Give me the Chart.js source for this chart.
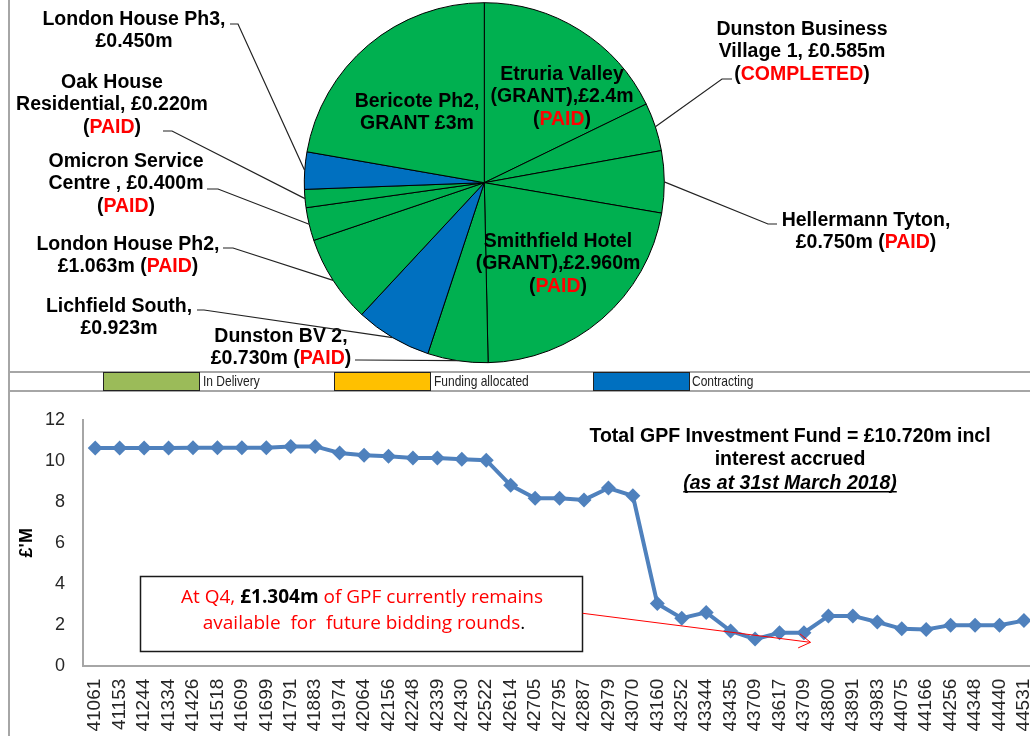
<!DOCTYPE html>
<html>
<head>
<meta charset="utf-8">
<title>GPF Investment Fund</title>
<script src="https://cdn.jsdelivr.net/npm/chart.js@4.4.0/dist/chart.umd.min.js"></script>
<style>
  html, body { margin: 0; padding: 0; background: #fff; overflow: hidden; }
  #page { position: relative; width: 1030px; height: 736px; overflow: hidden; font-family: 'Liberation Sans', Arial, sans-serif; }
  #pieBox { position: absolute; left: 0; top: 0; width: 1030px; height: 370px; }
  #lineBox { position: absolute; left: 0; top: 391px; width: 1060px; height: 345px; }
  .rule { position: absolute; background: #a6a6a6; }
  .key { position: absolute; top: 372px; width: 95px; height: 17px; border: 1px solid #222; }
  .keyText { position: absolute; top: 372px; font: 15px 'Liberation Sans', Arial, sans-serif; color: #222;
             transform: scaleX(0.8); transform-origin: 0 0; white-space: nowrap; }
</style>
</head>
<body>
<div id="page">
  <div id="pieBox"><canvas id="pieChart"></canvas></div>
  <div class="rule" style="left:8px; top:0; width:2px; height:736px;"></div>
  <div class="rule" style="left:8px; top:371px; width:1022px; height:2px;"></div>
  <div class="rule" style="left:8px; top:390px; width:1022px; height:2px;"></div>
  <div class="key" style="left:103px; background:#9bbb59;"></div>
  <div class="keyText" style="left:203px;">In Delivery</div>
  <div class="key" style="left:334px; background:#ffc000;"></div>
  <div class="keyText" style="left:434px;">Funding allocated</div>
  <div class="key" style="left:593px; background:#0070c0;"></div>
  <div class="keyText" style="left:692px;">Contracting</div>
  <div id="lineBox"><canvas id="lineChart"></canvas></div>
</div>
<script>
// pie: GPF allocations (£m), clockwise from 12 o'clock
const sliceNames = ['Etruria Valley', 'Dunston Business Village 1', 'Hellermann Tyton', 'Smithfield Hotel',
  'Dunston BV 2', 'Lichfield South', 'London House Ph2', 'Omicron Service Centre',
  'Oak House Residential', 'London House Ph3', 'Bericote Ph2'];
const sliceValues = [2.4, 0.585, 0.75, 2.96, 0.73, 0.923, 1.063, 0.4, 0.22, 0.45, 3];
const sliceColors = ['#00b050', '#00b050', '#00b050', '#00b050', '#00b050', '#0070c0',
  '#00b050', '#00b050', '#00b050', '#0070c0', '#00b050'];
// {..} = red text
const sliceLabels = [
  ['Etruria Valley', '(GRANT),£2.4m', '({PAID})'],
  ['Dunston Business', 'Village 1, £0.585m', '({COMPLETED})'],
  ['Hellermann Tyton,', '£0.750m ({PAID})'],
  ['Smithfield Hotel', '(GRANT),£2.960m', '({PAID})'],
  ['Dunston BV 2,', '£0.730m ({PAID})'],
  ['Lichfield South,', '£0.923m'],
  ['London House Ph2,', '£1.063m ({PAID})'],
  ['Omicron Service', 'Centre , £0.400m', '({PAID})'],
  ['Oak House', 'Residential, £0.220m', '({PAID})'],
  ['London House Ph3,', '£0.450m'],
  ['Bericote Ph2,', 'GRANT £3m']
];

// line: fund remaining (£m) per quarter
const quarterLabels = ['41061', '41153', '41244', '41334', '41426', '41518', '41609', '41699', '41791', '41883',
  '41974', '42064', '42156', '42248', '42339', '42430', '42522', '42614', '42705', '42795',
  '42887', '42979', '43070', '43160', '43252', '43344', '43435', '43709', '43617', '43709',
  '43800', '43891', '43983', '44075', '44166', '44256', '44348', '44440', '44531'];
const fundRemaining = [10.62, 10.62, 10.62, 10.62, 10.64, 10.64, 10.64, 10.64, 10.70, 10.70,
  10.38, 10.27, 10.22, 10.14, 10.14, 10.07, 10.03, 8.8, 8.17, 8.17,
  8.09, 8.67, 8.29, 3.03, 2.32, 2.6, 1.69, 1.30, 1.61, 1.61,
  2.43, 2.43, 2.13, 1.80, 1.77, 1.98, 1.98, 1.98, 2.2];
const yTicks = [0, 2, 4, 6, 8, 10, 12];

const FONT = '"Liberation Sans", Arial, sans-serif';

// where each pie label sits; "from" = [leader start x, y, elbow x]
const labelSpots = [
  { x: 562, y: 80 },
  { x: 802, y: 35, from: [732, 79, 722] },
  { x: 866, y: 226, from: [777, 224, 768] },
  { x: 558, y: 247 },
  { x: 281, y: 342, from: [355, 360, 358] },
  { x: 119, y: 312, from: [197, 310, 204] },
  { x: 128, y: 250, from: [223, 248, 233] },
  { x: 126, y: 167, from: [207, 189, 218] },
  { x: 112, y: 88, from: [163, 131, 172] },
  { x: 134, y: 25, from: [230, 24, 238] },
  { x: 417, y: 107 }
];

function drawRuns(ctx, runs, cx, baseline) {
  let total = 0;
  runs.forEach(r => { ctx.font = r.font; r.w = ctx.measureText(r.text).width; total += r.w; });
  let xPos = cx - total / 2;
  ctx.textAlign = 'left';
  runs.forEach(r => {
    ctx.font = r.font;
    ctx.fillStyle = r.color;
    ctx.fillText(r.text, xPos, baseline);
    xPos += r.w;
  });
}

const pieLabelPlugin = {
  id: 'pieLabels',
  afterDatasetsDraw(chart) {
    const ctx = chart.ctx;
    const arcs = chart.getDatasetMeta(0).data;
    const font = 'bold 19.5px ' + FONT;
    ctx.save();
    ctx.textBaseline = 'alphabetic';
    labelSpots.forEach((spot, i) => {
      if (spot.from) {
        const arc = arcs[i];
        const mid = (arc.startAngle + arc.endAngle) / 2;
        ctx.beginPath();
        ctx.moveTo(spot.from[0], spot.from[1]);
        ctx.lineTo(spot.from[2], spot.from[1]);
        ctx.lineTo(arc.x + Math.cos(mid) * arc.outerRadius, arc.y + Math.sin(mid) * arc.outerRadius);
        ctx.strokeStyle = '#222';
        ctx.lineWidth = 1.2;
        ctx.stroke();
      }
      sliceLabels[i].forEach((line, k) => {
        const runs = line.split(/[{}]/).map((t, j) => ({ text: t, font: font, color: j % 2 ? '#ff0000' : '#000' }));
        drawRuns(ctx, runs, spot.x, spot.y + k * 22.3);
      });
    });
    ctx.restore();
  }
};

const notesPlugin = {
  id: 'notes',
  afterDatasetsDraw(chart) {
    const { ctx, scales: { x, y } } = chart;
    ctx.save();
    ctx.textBaseline = 'alphabetic';
    ctx.textAlign = 'center';
    ctx.fillStyle = '#000';
    ctx.font = 'bold 19.5px ' + FONT;
    ctx.fillText('Total GPF Investment Fund = £10.720m incl', 790, 51);
    ctx.fillText('interest accrued', 790, 74);
    ctx.font = 'italic bold 19.5px ' + FONT;
    const sub = '(as at 31st March 2018)';
    ctx.fillText(sub, 790, 97.5);
    const w = ctx.measureText(sub).width;
    ctx.fillRect(790 - w / 2, 100, w, 1.5);

    // text box
    ctx.fillStyle = '#fff';
    ctx.fillRect(140, 185, 443, 76);
    ctx.strokeStyle = '#1a1a1a';
    ctx.lineWidth = 1.5;
    ctx.strokeRect(140.5, 185.5, 442, 75);
    const reg = '19px "Open Sans", sans-serif';
    const bold = 'bold 19px "Open Sans", sans-serif';
    drawRuns(ctx, [
      { text: 'At Q4, ', font: reg, color: '#ff0000' },
      { text: '£1.304m', font: bold, color: '#000' },
      { text: ' of GPF currently remains', font: reg, color: '#ff0000' }
    ], 362, 212.3);
    drawRuns(ctx, [
      { text: 'available  for  future bidding rounds', font: reg, color: '#ff0000' },
      { text: '.', font: reg, color: '#000' }
    ], 364, 238.3);

    // arrow to the low point
    const sx = 582.7, sy = 222.3;
    const tx = x.getPixelForValue(29) + 6.5, ty = y.getPixelForValue(1.14);
    const ang = Math.atan2(ty - sy, tx - sx);
    ctx.strokeStyle = '#ff0000';
    ctx.lineWidth = 1;
    ctx.beginPath();
    ctx.moveTo(sx, sy);
    ctx.lineTo(tx, ty);
    ctx.moveTo(tx + Math.cos(ang + Math.PI - 0.55) * 13.5, ty + Math.sin(ang + Math.PI - 0.55) * 13.5);
    ctx.lineTo(tx, ty);
    ctx.lineTo(tx + Math.cos(ang + Math.PI + 0.55) * 13.5, ty + Math.sin(ang + Math.PI + 0.55) * 13.5);
    ctx.stroke();
    ctx.restore();
  }
};

new Chart(document.getElementById('pieChart'), {
  type: 'pie',
  data: {
    labels: sliceNames,
    datasets: [{
      data: sliceValues,
      backgroundColor: sliceColors,
      borderColor: '#000',
      borderWidth: 1,
      radius: 180
    }]
  },
  options: {
    responsive: true,
    maintainAspectRatio: false,
    animation: false,
    events: [],
    layout: { padding: { top: 2.7, bottom: 7.3, left: 0, right: 61.4 } },
    plugins: { legend: { display: false }, tooltip: { enabled: false } }
  },
  plugins: [pieLabelPlugin]
});

new Chart(document.getElementById('lineChart'), {
  type: 'line',
  data: {
    labels: quarterLabels,
    datasets: [{
      data: fundRemaining,
      borderColor: '#4f81bd',
      backgroundColor: '#4f81bd',
      borderWidth: 4,
      tension: 0,
      pointStyle: 'rectRot',
      pointRadius: 7.5,
      pointBorderWidth: 0,
      pointBackgroundColor: '#4f81bd'
    }]
  },
  options: {
    responsive: true,
    maintainAspectRatio: false,
    animation: false,
    events: [],
    layout: { padding: { top: 21.7, right: 21.5, bottom: 0, left: 0 } },
    plugins: { legend: { display: false }, tooltip: { enabled: false } },
    scales: {
      x: {
        offset: true,
        grid: { display: false, drawTicks: false },
        border: { color: '#a6a6a6', width: 2 },
        ticks: {
          autoSkip: false, maxRotation: 90, minRotation: 90, padding: 13,
          color: '#262626', font: { family: FONT, size: 19 }
        },
        afterFit(s) { s.height = 70.3; }
      },
      y: {
        min: 0,
        max: 12,
        afterBuildTicks(s) { s.ticks = yTicks.map(v => ({ value: v })); },
        grid: { display: false, drawTicks: false },
        border: { color: '#a6a6a6', width: 2 },
        ticks: { padding: 18, color: '#262626', font: { family: FONT, size: 18 } },
        title: {
          display: true, text: "£'M", color: '#000',
          font: { family: FONT, size: 18, weight: 'bold' },
          padding: { top: 16, bottom: 0 }
        },
        afterFit(s) { s.width = 83; }
      }
    }
  },
  plugins: [notesPlugin]
});
</script>
</body>
</html>
